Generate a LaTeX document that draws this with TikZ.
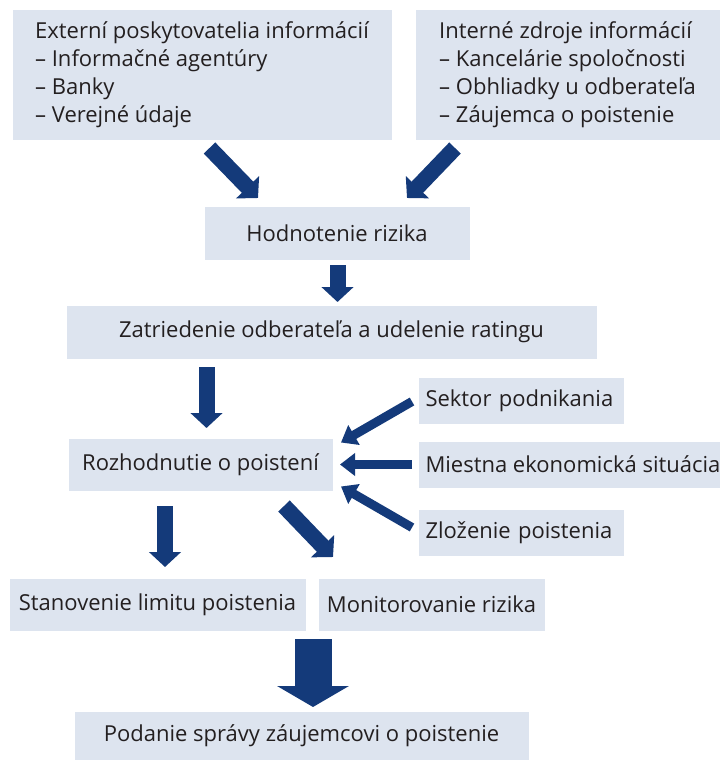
\documentclass[tikz,border=0pt]{standalone}
\usepackage{fontspec}
\setmainfont{Open Sans}
\usetikzlibrary{arrows.meta,calc}

\definecolor{boxfill}{RGB}{221,228,239}
\definecolor{arrowblue}{RGB}{20,58,122}
\definecolor{textdark}{RGB}{35,31,32}

\tikzset{every picture/.style={line width=0.75pt}}
\tikzset{
  infobox/.style={fill=boxfill, draw=none, text=textdark, anchor=north west, inner ysep=0pt, inner xsep=5.25pt, font=\fontsize{16.5}{21}\selectfont},
  thinarrow/.style={draw=arrowblue, line width=6.75pt, -{Triangle[width=16.5pt,length=11.25pt]}},
  midarrow/.style={draw=arrowblue, line width=12pt, -{Triangle[width=23.5pt,length=11.25pt]}},
  bigarrow/.style={draw=arrowblue, line width=27.75pt, -{Triangle[width=53.25pt,length=15.75pt]}}
}

\begin{document}
\begin{tikzpicture}[x=0.75pt,y=0.75pt,yscale=-1,xscale=1]
\useasboundingbox (0,0) rectangle (719,760);

%Shape: Boxes
\node[infobox, minimum width=284.25pt, minimum height=97.5pt, align=left] (ext) at (12,9) {Externí poskytovatelia informácií\\– Informačné agentúry\\– Banky\\– Verejné údaje};
\node[infobox, minimum width=228pt, minimum height=97.5pt, align=left] (int) at (415,9) {Interné zdroje informácií\\– Kancelárie spoločnosti\\– Obhliadky u odberateľa\\– Záujemca o poistenie};
\node[infobox, minimum width=198.75pt, minimum height=39.75pt] (hod) at (204,206) {Hodnotenie rizika};
\node[infobox, minimum width=397.5pt, minimum height=39.75pt] (zat) at (66,305) {Zatriedenie odberateľa a udelenie ratingu};
\node[infobox, minimum width=198pt, minimum height=39pt] (roz) at (68,438) {Rozhodnutie o poistení};
\node[infobox, minimum width=153.75pt, minimum height=34.5pt, text width=143.25pt, align=left] (sek) at (418,377) {Sektor podnikania};
\node[infobox, minimum height=34.5pt] (mie) at (418,441) {Miestna ekonomická situácia};
\node[infobox, minimum width=153.75pt, minimum height=34.5pt, text width=143.25pt, align=left] (zlo) at (418,509) {Zloženie poistenia};
\node[infobox, minimum width=222pt, minimum height=39pt] (sta) at (9,578) {Stanovenie limitu poistenia};
\node[infobox, minimum width=169.5pt, minimum height=39pt] (mon) at (318,578) {Monitorovanie rizika};
\node[infobox, minimum width=340.5pt, minimum height=36.75pt] (pod) at (74,711) {Podanie správy záujemcovi o poistenie};

%Straight Lines: sources into the assessment
\draw[midarrow] ($(ext.south)+(7.5,8)$) -- ($(hod.north west)+(54,-8)$);
\draw[midarrow] ($(int.south west)+(40,8)$) -- ($(hod.north east)+(-63,-8)$);
\draw[midarrow] ($(hod.south)+(0.5,5)$) -- ($(hod.south |- zat.north)+(0.5,-3)$);
\draw[midarrow] ($(zat.south -| roz.north)+(6,8)$) -- ($(roz.north)+(6,-10)$);
%Straight Lines: factors into the decision
\draw[thinarrow] ($(sek.west)+(-6,1)$) -- ($(roz.east)+(8,-22)$);
\draw[thinarrow] ($(mie.west)+(-6,0)$) -- ($(roz.east)+(7,0)$);
\draw[thinarrow] ($(zlo.west)+(-6,-5)$) -- ($(roz.east)+(8,22)$);
%Straight Lines: decision outputs
\draw[midarrow] ($(roz.south -| sta.north)+(7.5,15)$) -- ($(sta.north)+(7.5,-11)$);
\draw[midarrow] ($(roz.south east)+(-49,15)$) -- ($(mon.north west)+(15,-21)$);
\draw[bigarrow] ($(sta.south east)!0.5!(mon.south west)+(1,8)$) -- ($(pod.north)+(11.5,-4)$);

\end{tikzpicture}
\end{document}
